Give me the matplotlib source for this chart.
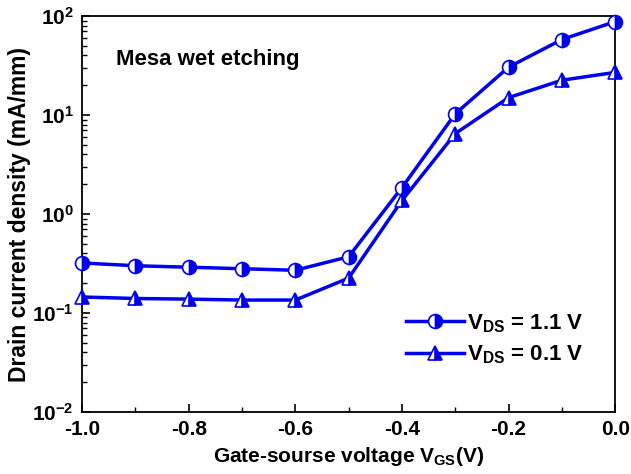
import numpy as np
import matplotlib.pyplot as plt
from matplotlib.ticker import LogLocator, FixedLocator

# =============================================================================
# Data
# =============================================================================

vgs = [-1.0, -0.9, -0.8, -0.7, -0.6, -0.5, -0.4, -0.3, -0.2, -0.1, 0.0]

# Drain current density in mA/mm
id_vds_11 = [0.32, 0.30, 0.29, 0.28, 0.27, 0.37, 1.85, 10.3, 30.5, 58.0, 88.0]
id_vds_01 = [0.145, 0.140, 0.138, 0.135, 0.135, 0.225, 1.37, 6.5, 15.0, 22.5, 27.0]

labels = [r"V$_{\mathbf{DS}}$ = 1.1 V", r"V$_{\mathbf{DS}}$ = 0.1 V"]
x_ticks = [-1.0, -0.8, -0.6, -0.4, -0.2, 0.0]
x_minor = [-0.9, -0.7, -0.5, -0.3, -0.1]

# =============================================================================
# Plot
# =============================================================================

plt.rcParams['font.family'] = ['Liberation Sans', 'DejaVu Sans']
plt.rcParams['font.weight'] = 'bold'
plt.rcParams['mathtext.fontset'] = 'custom'
plt.rcParams['mathtext.rm'] = 'Liberation Sans:bold'
plt.rcParams['mathtext.it'] = 'Liberation Sans:bold'
plt.rcParams['mathtext.bf'] = 'Liberation Sans:bold'

blue = '#0000ee'

fig = plt.figure(figsize=(6.31, 4.74), dpi=100)
ax = fig.add_axes([0.130, 0.131, 0.845, 0.835])

style = dict(color=blue, lw=2.5, ms=10, fillstyle='right',
             markerfacecolor=blue, markerfacecoloralt='white',
             markeredgecolor=blue, markeredgewidth=1.2,
             clip_on=False, zorder=3)
ax.plot(vgs, id_vds_11, '-', marker='o', label=labels[0], **style)
ax.plot(vgs, id_vds_01, '-', marker='^', label=labels[1], **style)

ax.set_yscale('log')
ax.set_ylim(1e-2, 1e2)
ax.set_xlim(-1.0, 0.0)

ax.xaxis.set_major_locator(FixedLocator(x_ticks))
ax.xaxis.set_minor_locator(FixedLocator(x_minor))
ax.set_xticklabels([f"{t:.1f}" for t in x_ticks])
ax.yaxis.set_major_locator(LogLocator(base=10, numticks=10))
ax.yaxis.set_minor_locator(LogLocator(base=10, subs=np.arange(2, 10), numticks=20))

ax.tick_params(axis='both', which='both', direction='in', top=False, right=False)
ax.tick_params(axis='both', which='major', length=6, width=1.2, labelsize=15, pad=6)
ax.tick_params(axis='both', which='minor', length=3.5, width=1.0)
ax.tick_params(axis='y', which='minor', labelleft=False)

for s in ax.spines.values():
    s.set_linewidth(1.3)

ax.set_xlabel(r"Gate-sourse voltage V$_{\mathbf{GS}}$(V)", fontsize=15,
              fontweight='bold', labelpad=4)
ax.set_ylabel("Drain current density (mA/mm)", fontsize=16.5,
              fontweight='bold', labelpad=1)

ax.text(0.063, 0.876, "Mesa wet etching", transform=ax.transAxes,
        fontsize=16, fontweight='bold')

ax.legend(loc='lower right', bbox_to_anchor=(0.978, 0.065), frameon=False,
          fontsize=16, handlelength=2.6, handletextpad=0.15, labelspacing=0.4)

fig.savefig("out.png", dpi=100)
